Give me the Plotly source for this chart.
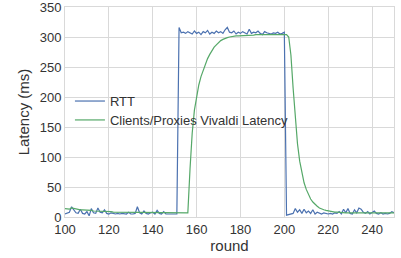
import plotly.graph_objects as go

rounds = list(range(100, 251))

rtt = [
    # 100-151
    5, 6, 8, 17, 12, 7, 6, 13, 6, 5,
    9, 2, 14, 7, 6, 15, 8, 7, 12, 6,
    5, 7, 6, 5, 6, 5, 6, 5, 5, 8,
    5, 5, 6, 17, 7, 5, 10, 6, 5, 7,
    8, 5, 11, 6, 5, 9, 5, 5, 5, 5,
    5, 5,
    # 152-200
    316, 307, 308, 306, 309, 307, 305, 310,
    306, 308, 304, 309, 307, 311, 305, 308, 306, 310,
    307, 309, 306, 312, 316, 308, 307, 310, 305, 308,
    306, 309, 307, 305, 313, 306, 308, 307, 310, 306,
    304, 309, 307, 306, 305, 307, 306, 308, 305, 306,
    308,
    # 201-250
    3, 4, 5, 6, 14, 8, 12, 6, 13, 7,
    10, 6, 12, 5, 8, 6, 5, 7, 6, 5,
    6, 5, 7, 6, 9, 5, 13, 7, 14, 6,
    5, 12, 7, 15, 13, 8, 6, 9, 5, 7,
    10, 6, 5, 7, 5, 6, 5, 6, 9, 7,
]

vivaldi = [
    # 100-130
    14, 14, 13, 15, 14, 13, 13, 12, 12, 12,
    11, 11, 11, 10, 10, 10, 10, 9, 9, 9,
    9, 9, 8, 8, 8, 8, 8, 8, 7, 7,
    7,
    # 131-156
    7, 7, 7, 7, 7, 7, 7, 7, 7, 7,
    7, 7, 7, 7, 7, 7, 7, 7, 7, 7,
    7, 7, 7, 7, 7, 7,
    # 157-200
    80, 140, 178, 203, 220, 234, 245, 255, 264, 271,
    278, 283, 287, 291, 294, 296, 298, 299, 300, 301,
    301, 302, 302, 302, 303, 303, 303, 303, 303, 303,
    304, 304, 304, 304, 304, 304, 304, 304, 304, 304,
    304, 304, 304, 304,
    # 201-250
    304, 300, 270, 215, 163, 122, 93, 72, 57, 46,
    37, 30, 25, 21, 18, 15, 13, 12, 11, 10,
    9, 8.5, 8, 8, 7.5, 7.5, 7, 7, 7, 7,
    7, 7, 7, 7, 7, 7, 7, 7, 7, 7,
    7, 7, 7, 7, 7, 7, 7, 7, 7, 7,
]

x_ticks = [100, 120, 140, 160, 180, 200, 220, 240]
y_ticks = [0, 50, 100, 150, 200, 250, 300, 350]

fig = go.Figure()
fig.add_trace(go.Scatter(x=rounds, y=rtt, mode="lines", name="RTT",
                         line=dict(color="#4C72B0", width=1.2), legend="legend"))
fig.add_trace(go.Scatter(x=rounds, y=vivaldi, mode="lines",
                         name="Clients/Proxies Vivaldi Latency",
                         line=dict(color="#55A868", width=1.2), legend="legend2"))

font = "Liberation Sans, Arial, sans-serif"
leg_common = dict(xanchor="left", yanchor="middle", bgcolor="rgba(0,0,0,0)",
                  font=dict(size=13, color="#333333"), itemwidth=30,
                  borderwidth=0)
fig.update_layout(
    width=401, height=258,
    margin=dict(l=65, r=7, t=7, b=41, autoexpand=False),
    paper_bgcolor="white", plot_bgcolor="white",
    font=dict(family=font, size=13, color="#333333"),
    showlegend=True,
    legend=dict(x=0.015, y=0.552, **leg_common),
    legend2=dict(x=0.015, y=0.462, **leg_common),
)
fig.update_xaxes(range=[100, 250], tickvals=x_ticks, showgrid=True,
                 gridcolor="#d9d9d9", gridwidth=1, showline=True, mirror=True,
                 linecolor="#d9d9d9", linewidth=1, zeroline=False, ticks="",
                 automargin=False, ticklabeloverflow="allow",
                 tickfont=dict(size=13, color="#333333"),
                 title=dict(text="round", font=dict(size=15, color="#333333"), standoff=4))
fig.update_yaxes(range=[0, 350], tickvals=y_ticks, showgrid=True,
                 gridcolor="#d9d9d9", gridwidth=1, showline=True, mirror=True,
                 linecolor="#d9d9d9", linewidth=1, zeroline=False, ticks="",
                 automargin=False, ticklabeloverflow="allow",
                 tickfont=dict(size=13, color="#333333"),
                 title=dict(text="Latency (ms)", font=dict(size=15, color="#333333"), standoff=6))

fig.write_html("out.html", config={"displayModeBar": False},
               post_script="document.body.style.margin='0';document.body.style.padding='0';")
